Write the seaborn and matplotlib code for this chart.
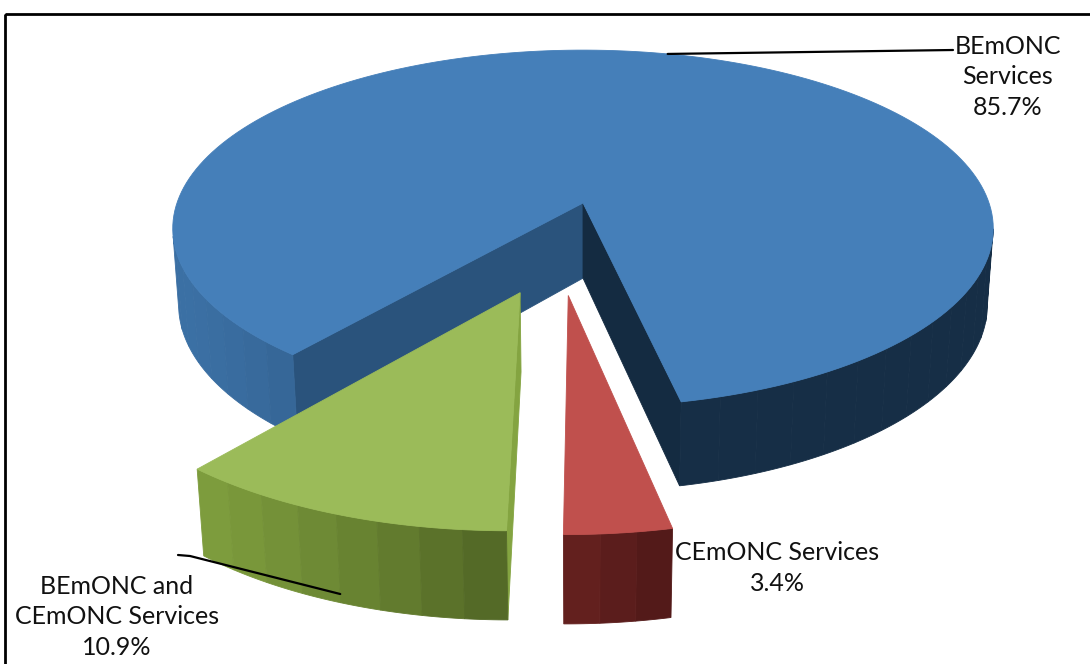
import colorsys

import numpy as np
import matplotlib
matplotlib.use("Agg")
import matplotlib.pyplot as plt
import matplotlib.colors as mcolors
from matplotlib.patches import Rectangle
import seaborn as sns

# ---- data -------------------------------------------------------------
categories = ["BEmONC Services", "BEmONC and CEmONC Services", "CEmONC Services"]
label_lines = ["BEmONC\nServices", "BEmONC and\nCEmONC Services", "CEmONC Services"]
shares = [85.7, 10.9, 3.4]
palette = ["#457fb9", "#9bbb59", "#c0504d"]

# ---- style ------------------------------------------------------------
sns.set_theme(style="white")
plt.rcParams["font.family"] = ["Lato", "DejaVu Sans"]

W, H = 1090, 664
fig = plt.figure(figsize=(W / 100, H / 100), dpi=100)
ax = fig.add_axes([0, 0, 1, 1])
ax.set_xlim(0, W)
ax.set_ylim(H, 0)
ax.axis("off")

# ---- 3-D pie geometry (unit radius, top face at z = 0) ------------------
start_angle = 282.0      # first wedge starts here, counter-clockwise
explode = 0.25           # every wedge pulled out by a quarter radius
thickness = 0.208
tilt = np.radians(25.5)  # camera elevation
dist = 6.3               # camera distance
focal = 2558.0
anchor = np.array([583.0, 203.0])

spans = np.array(shares) / np.sum(shares) * 360.0
edges = start_angle + np.concatenate([[0.0], np.cumsum(spans)])
mids = (edges[:-1] + edges[1:]) / 2.0
offsets = explode * np.c_[np.cos(np.radians(mids)), np.sin(np.radians(mids))]

target = offsets[0]  # camera aims at the tip of the largest wedge
ct, st = np.cos(tilt), np.sin(tilt)
cam = np.array([target[0], target[1] - dist * ct, dist * st])


def project(x, y, z):
    x = np.asarray(x, float) - target[0]
    y = np.asarray(y, float) - target[1]
    z = np.asarray(z, float)
    depth = y * ct - z * st + dist
    u = x * focal / depth
    v = (y * st + z * ct) * focal / depth
    return anchor[0] + u, anchor[1] - v, depth


def facing(p, n):
    return np.dot(cam - np.asarray(p), np.asarray(n)) > 0


def shade(color, f):
    r, g, b = mcolors.to_rgb(color)
    h, l, s = colorsys.rgb_to_hls(r, g, b)
    l2 = float(np.clip(l * f, 0, 1))
    s2 = float(np.clip(s * (1 + 0.22 * (1 - f)), 0, 1))
    return colorsys.hls_to_rgb(h, l2, s2)


def rim_light(theta):
    return max(0.36, 0.3 + 0.58 * np.cos(np.radians(theta - 200)))


def cut_light(normal_angle):
    return 0.6 + 0.3 * np.cos(np.radians(normal_angle - 40))


def draw_poly(X, Y, Z, color, zorder):
    px, py, _ = project(X, Y, Z)
    ax.fill(px, py, color=color, ec=color, lw=0.6, zorder=zorder)


# far wedges first
order = np.argsort(-offsets[:, 1])
z_base = 2
for i in order:
    a, b = edges[i], edges[i + 1]
    ox, oy = offsets[i]
    col = palette[i]
    faces = []

    # curved outer wall, split into facets
    nfac = max(2, int(np.ceil((b - a) / 5.0)))
    bounds = np.linspace(a, b, nfac + 1)
    for t0, t1 in zip(bounds[:-1], bounds[1:]):
        tt = np.radians(np.linspace(t0, t1, 10))
        xs, ys = ox + np.cos(tt), oy + np.sin(tt)
        tm = np.radians((t0 + t1) / 2)
        n = [np.cos(tm), np.sin(tm), 0.0]
        pm = [ox + np.cos(tm), oy + np.sin(tm), -thickness / 2]
        if not facing(pm, n):
            continue
        X = np.r_[xs, xs[::-1]]
        Y = np.r_[ys, ys[::-1]]
        Z = np.r_[np.zeros(10), -thickness * np.ones(10)]
        d = project(*pm)[2]
        faces.append((d, X, Y, Z, shade(col, rim_light((t0 + t1) / 2))))

    # flat cut faces
    for ang, sgn in ((a, -1), (b, 1)):
        t = np.radians(ang)
        nang = ang + sgn * 90
        n = [np.cos(np.radians(nang)), np.sin(np.radians(nang)), 0.0]
        ex, ey = ox + np.cos(t), oy + np.sin(t)
        pm = [(ox + ex) / 2, (oy + ey) / 2, -thickness / 2]
        if not facing(pm, n):
            continue
        X = [ox, ex, ex, ox]
        Y = [oy, ey, ey, oy]
        Z = [0, 0, -thickness, -thickness]
        d = project(*pm)[2]
        faces.append((d, X, Y, Z, shade(col, cut_light(nang))))

    faces.sort(key=lambda f: -f[0])
    for k, (d, X, Y, Z, c) in enumerate(faces):
        draw_poly(X, Y, Z, c, z_base + k * 0.001)

    # top face
    tt = np.radians(np.linspace(a, b, 200))
    X = np.r_[ox, ox + np.cos(tt)]
    Y = np.r_[oy, oy + np.sin(tt)]
    Z = np.zeros(len(X))
    draw_poly(X, Y, Z, col, z_base + 0.5)
    z_base += 1

# ---- labels ------------------------------------------------------------
txt = dict(fontsize=18, color="#111111", ha="center", va="center",
           linespacing=1.42, zorder=20)

# largest wedge: leader from the middle of its top rim
tm = np.radians(mids[0])
lx, ly, _ = project(offsets[0, 0] + np.cos(tm), offsets[0, 1] + np.sin(tm), 0.0)
ax.plot([lx, 953], [ly, 50], color="black", lw=1.6, zorder=20)
ax.text(1008, 77, f"{label_lines[0]}\n{shares[0]:.1f}%", **txt)

# second wedge: leader from the middle of its outer wall
tm = np.radians(mids[1])
gx, gy, _ = project(offsets[1, 0] + np.cos(tm), offsets[1, 1] + np.sin(tm),
                    -0.9 * thickness)
ax.plot([gx, 190, 178], [gy, 556, 555], color="black", lw=1.6, zorder=20)
ax.text(117, 617, f"{label_lines[1]}\n{shares[1]:.1f}%", **txt)

# third wedge
ax.text(777, 568, f"{label_lines[2]}\n{shares[2]:.1f}%", **txt)

# chart frame
ax.add_patch(Rectangle((5, 14), W + 20, H + 20, fill=False, ec="black",
                       lw=2.0, zorder=30))

fig.savefig("out.png", dpi=100)
